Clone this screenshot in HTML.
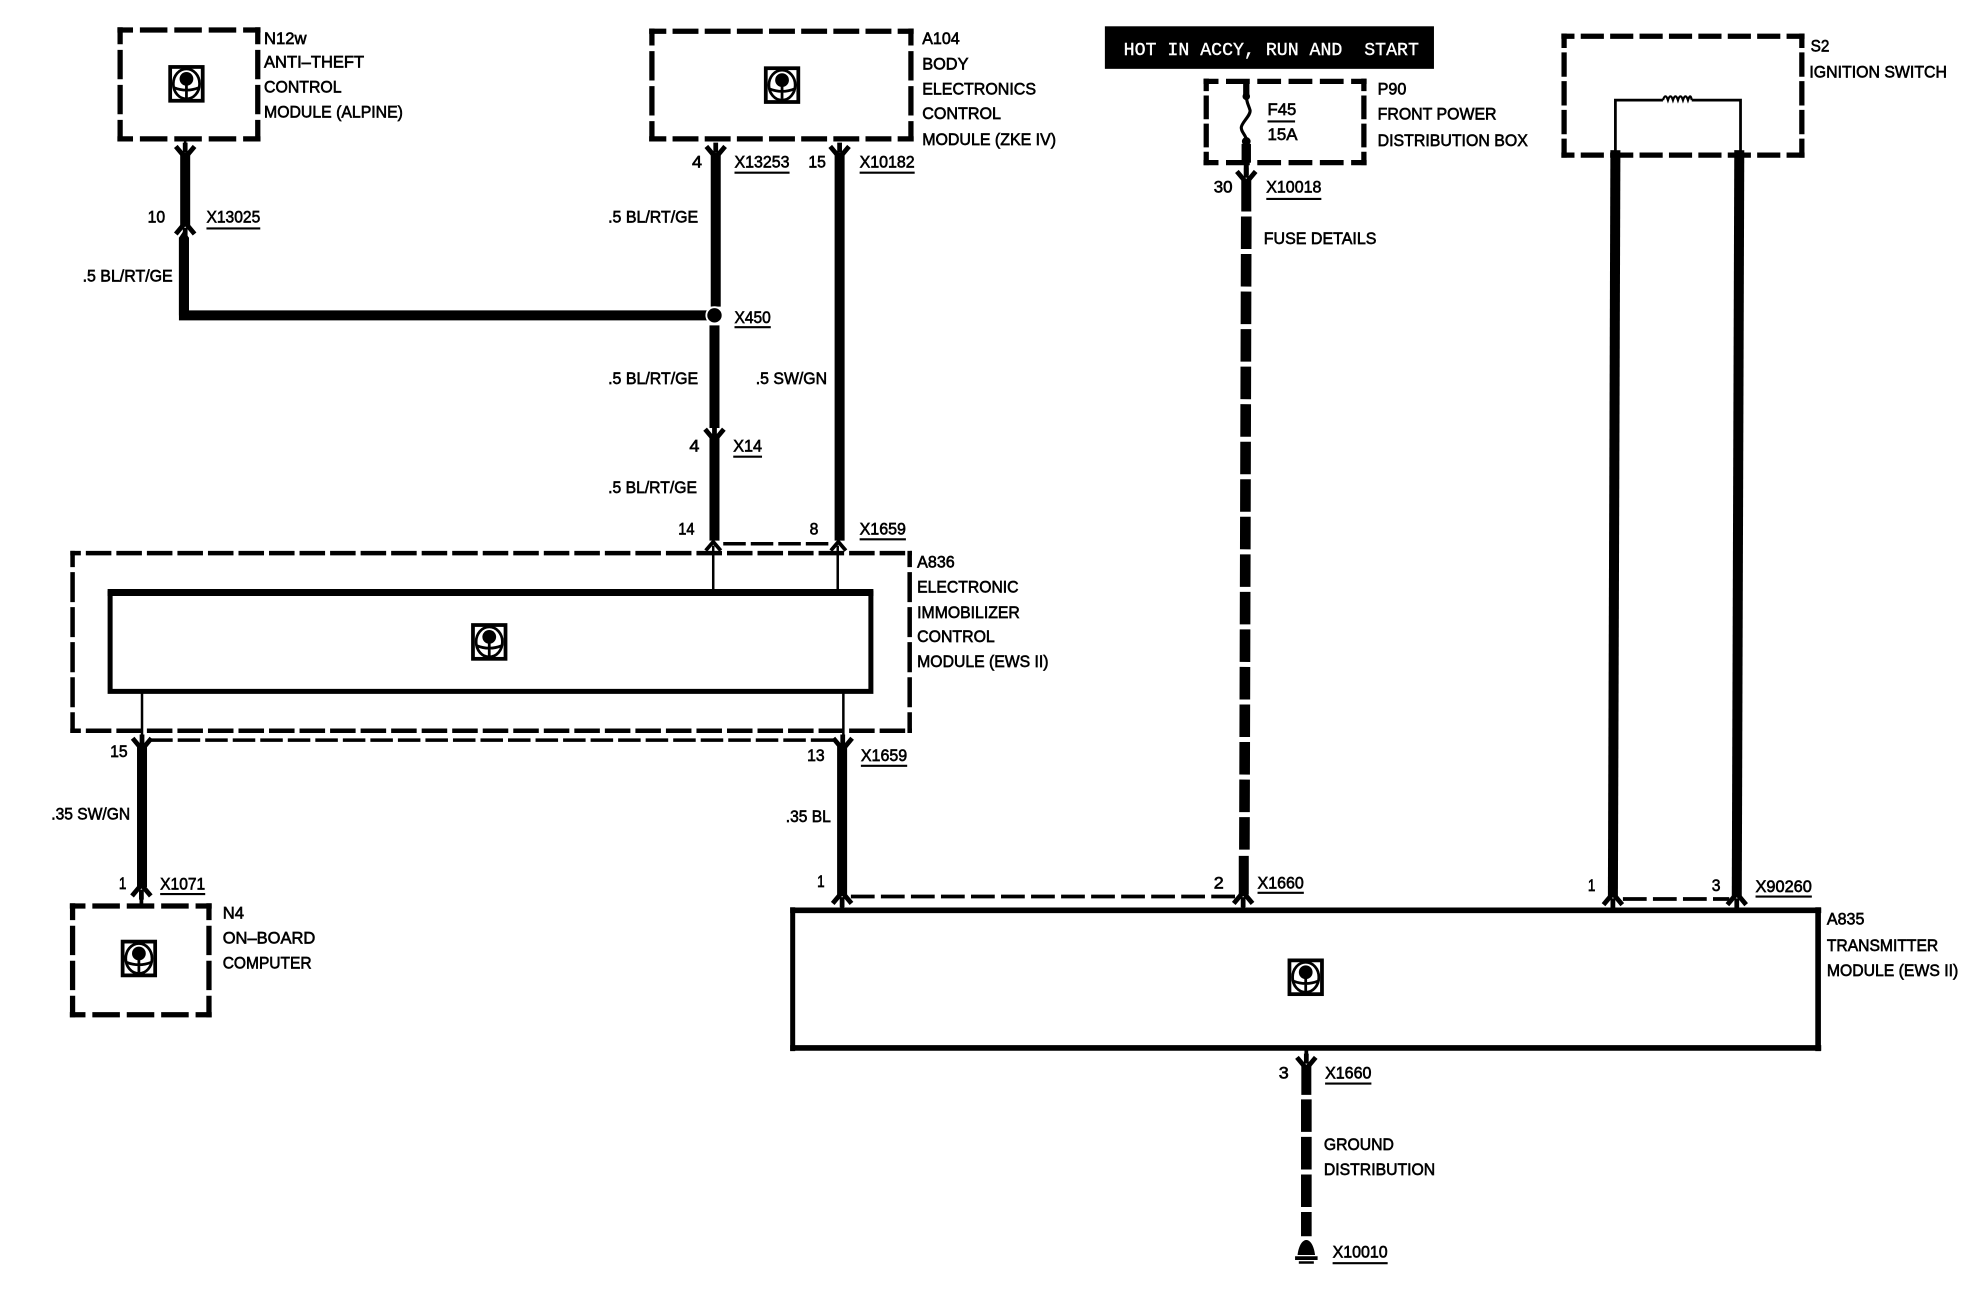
<!DOCTYPE html>
<html lang="en">
<head>
<meta charset="utf-8">
<title>Wiring diagram</title>
<style>
html,body{margin:0;padding:0;background:#fff;width:1962px;height:1312px;overflow:hidden}
svg{display:block}
text{font-family:"Liberation Sans",sans-serif;font-size:13.5px;fill:#000;stroke:#000;stroke-width:.5px}
.w{fill:none;stroke:#000;stroke-width:8}
.t{fill:none;stroke:#000;stroke-width:2}
.s{fill:none;stroke:#000;stroke-width:4.2}
.dv{fill:none;stroke:#000;stroke-width:4.2;stroke-dasharray:23.500 4.500;stroke-dashoffset:10}
.d3{fill:none;stroke:#000;stroke-width:2.8;stroke-dasharray:18 4}
.d4{fill:none;stroke:#000;stroke-width:3;stroke-dasharray:19 5}
.f{fill:none;stroke:#000;stroke-width:8.5;stroke-dasharray:26 4}
.u{stroke:#000;stroke-width:1.7}
</style>
</head>
<body>
<svg xmlns="http://www.w3.org/2000/svg" width="1962" height="1312" viewBox="0 0 1568 1048.5">
<defs>
<g id="ic">
<rect x="-13" y="-13.500" width="26" height="27" fill="#fff" stroke="#000" stroke-width="3"/>
<ellipse cx="0" cy="0" rx="10.500" ry="12" fill="none" stroke="#000" stroke-width="2.2"/>
<circle cx="0" cy="-4" r="5.500" fill="#000"/>
<path d="M0 0V11M-10 3Q0 7 10 3" fill="none" stroke="#000" stroke-width="2.2"/>
</g>
<path id="fd" d="M-7.500 -7 L0 2 L7.500 -7 M0 -10V-2" fill="none" stroke="#000" stroke-width="3.800"/>
<path id="fu" d="M-7.500 7 L0 -2 L7.500 7 M0 10V2" fill="none" stroke="#000" stroke-width="3.800"/>
<path id="fs" d="M-6 5 L0 -2 L6 5" fill="none" stroke="#000" stroke-width="3"/>
</defs>

<!-- dashed module boxes: each side restarts its dash pattern at a corner -->
<path class="s" stroke-dasharray="22 5.500" stroke-dashoffset="9.500" d="M93.800 24H208.200M93.800 111H208.200"/>
<path class="dv" d="M96 21.800V113M206 21.800V113"/>

<path class="s" stroke-dasharray="20.700 5" stroke-dashoffset="7" d="M518.800 25H730.200M518.800 111H730.200"/>
<path class="dv" d="M521 22.800V113M728 22.800V113"/>

<path class="s" stroke-dasharray="19 6" stroke-dashoffset="7" d="M961.800 65H1092.200M961.800 130H1092.200"/>
<path class="s" stroke-dasharray="19 3.500" stroke-dashoffset="9" d="M964 62.800V132M1090 62.800V132"/>

<path class="s" stroke-dasharray="18.500 5" stroke-dashoffset="8" d="M1247.800 29H1442.200M1247.800 124H1442.200"/>
<path class="s" stroke-dasharray="19.500 3.500" stroke-dashoffset="8" d="M1250 26.800V126M1440 26.800V126"/>

<path fill="none" stroke="#000" stroke-width="3.600" stroke-dasharray="20.400 4" stroke-dashoffset="12" d="M56.200 442H728.800M56.200 584H728.800"/>
<path fill="none" stroke="#000" stroke-width="3.600" stroke-dasharray="24 4" stroke-dashoffset="11" d="M58 440.200V585.800M727 440.200V585.800"/>

<path class="s" stroke-dasharray="22 5.500" stroke-dashoffset="9.500" d="M55.800 724H169.200M55.800 811H169.200"/>
<path class="dv" d="M58 721.800V813M167 721.800V813"/>

<!-- solid modules -->
<path fill="none" stroke="#000" stroke-width="4" d="M88 472V554M696 472V554M86 552.500H698"/>
<path fill="none" stroke="#000" stroke-width="5.500" d="M86 473.500H698"/>
<path fill="none" stroke="#000" stroke-width="4" d="M633.500 725V840"/>
<path fill="none" stroke="#000" stroke-width="4.500" d="M631.500 727.500H1455.500M1453 725V840M631.500 837.500H1455.500"/>

<!-- N12w wire -->
<path class="t" d="M148 111V120" stroke-width="3"/>
<use href="#fd" x="148" y="124"/>
<path class="w" d="M148 122V180"/>
<use href="#fu" x="148" y="180"/>
<path d="M143 252V190L147 184L151 190V252Z" fill="#000"/>
<path class="w" d="M147 190V252H570"/>

<!-- A104 pin 4 -->
<use href="#fd" x="572" y="124"/>
<path class="w" d="M572 122V245"/>
<circle cx="571" cy="252" r="6.500" fill="#000" stroke="#fff" stroke-width="1.500"/>
<path class="w" d="M571 260V342"/>
<use href="#fd" x="571" y="350"/>
<path class="w" d="M571 348V432"/>
<use href="#fs" x="570" y="435"/>

<!-- A104 pin 15 -->
<use href="#fd" x="671" y="124"/>
<path class="w" d="M671 122V432"/>
<use href="#fs" x="670" y="435"/>

<path class="d3" d="M578 434.500H664"/>
<path class="t" d="M570 436V473M669.500 436V473"/>

<!-- A836 lower wires -->
<path class="t" d="M113.500 552V590M674 552V590"/>
<path class="d3" d="M120 591.500H668"/>
<use href="#fd" x="113.500" y="597"/>
<use href="#fd" x="673.500" y="597"/>
<path class="w" d="M113.500 595V709"/>
<path class="w" d="M673 595V715"/>
<use href="#fu" x="113" y="709"/>
<path d="M113 714V724" stroke="#000" stroke-width="3"/>
<use href="#fu" x="673" y="715"/>
<path d="M673 720V727" stroke="#000" stroke-width="3"/>

<path class="d4" d="M680 716.500H988"/>

<!-- Fuse wire -->
<path d="M996 65V76" stroke="#000" stroke-width="5"/>
<path d="M996 76C996 82 998 84 999 88C1000 92 992 98 992 102C992 106 996 108 996 112" fill="none" stroke="#000" stroke-width="2.500"/>
<circle cx="996" cy="77" r="3" fill="#000"/>
<circle cx="996" cy="113" r="3.500" fill="#000"/>
<path d="M996 115V130" stroke="#000" stroke-width="7.500"/>
<path d="M996 130V140" stroke="#000" stroke-width="4"/>
<use href="#fd" x="996" y="144"/>
<path class="w" d="M996 144V169" stroke-width="8.500"/>
<path class="f" d="M996 173L994.500 681"/>
<path class="w" d="M994 684V715"/>
<use href="#fu" x="993.500" y="715"/>
<path d="M993.500 718V726" stroke="#000" stroke-width="3"/>

<!-- S2 wires -->
<path class="w" d="M1291 120L1289 716"/>
<path class="w" d="M1390 120L1388 716"/>
<path d="M1291 122V80H1329M1352 80H1391V122" fill="none" stroke="#000" stroke-width="2.200"/>
<path d="M1329 80q2 -6 4 0q2 -6 4 0q2 -6 4 0q2 -6 4 0q2 -6 4 0q2 -6 3 0" fill="none" stroke="#000" stroke-width="1.800"/>
<use href="#fu" x="1289" y="716"/>
<use href="#fu" x="1388" y="716"/>
<path class="d4" d="M1297 718.500H1382"/>
<path d="M1289 719V726M1388 719V726" stroke="#000" stroke-width="3"/>

<!-- ground wire -->
<path d="M1044 838V848" stroke="#000" stroke-width="3"/>
<use href="#fd" x="1044" y="852"/>
<path class="w" d="M1044 851V875" stroke-width="8.500"/>
<path class="f" stroke-dasharray="26 3.600" d="M1044 878.600V988"/>
<path d="M1037 1003C1038 995 1041 991 1044 991C1047 991 1050 995 1051 1003ZM1035 1004H1053V1007H1035ZM1038 1008H1050V1010H1038Z" fill="#000"/>

<!-- ECU icons -->
<use href="#ic" x="149" y="67"/>
<use href="#ic" x="625" y="68"/>
<use href="#ic" x="391" y="513"/>
<use href="#ic" x="111" y="766"/>
<use href="#ic" x="1043.500" y="781"/>

<!-- banner -->
<rect x="883" y="21" width="263" height="34" fill="#000"/>
<text x="898" y="44" textLength="236" lengthAdjust="spacingAndGlyphs" xml:space="preserve" style="font-family:'Liberation Mono',monospace;fill:#fff;stroke:#fff;stroke-width:.3px;font-size:14.500px">HOT IN ACCY, RUN AND  START</text>

<!-- underlines -->
<path class="u" d="M165 182.500H208M587 138H631M687 138H731M587 261.500H616M586 365H609M687 431H724M688 612H725M128 714.500H164M1005 713.500H1042M1403 716.500H1448M1059 866H1096M1065 1009.500H1109M1012 159H1056M1013 97H1035"/>

<!-- N12w -->
<text x="211" y="35" textLength="34" lengthAdjust="spacingAndGlyphs">N12w</text>
<text x="211" y="54" textLength="80" lengthAdjust="spacingAndGlyphs">ANTI–THEFT</text>
<text x="211" y="74" textLength="62" lengthAdjust="spacingAndGlyphs">CONTROL</text>
<text x="211" y="94" textLength="111" lengthAdjust="spacingAndGlyphs">MODULE (ALPINE)</text>
<text x="118" y="178" textLength="14" lengthAdjust="spacingAndGlyphs">10</text>
<text x="165" y="178" textLength="43" lengthAdjust="spacingAndGlyphs">X13025</text>
<text x="66" y="225" textLength="72" lengthAdjust="spacingAndGlyphs">.5 BL/RT/GE</text>

<!-- A104 -->
<text x="737" y="35" textLength="30" lengthAdjust="spacingAndGlyphs">A104</text>
<text x="737" y="55.500" textLength="37" lengthAdjust="spacingAndGlyphs">BODY</text>
<text x="737" y="75.500" textLength="91" lengthAdjust="spacingAndGlyphs">ELECTRONICS</text>
<text x="737" y="95" textLength="63" lengthAdjust="spacingAndGlyphs">CONTROL</text>
<text x="737" y="116" textLength="107" lengthAdjust="spacingAndGlyphs">MODULE (ZKE IV)</text>
<text x="553" y="134" textLength="8" lengthAdjust="spacingAndGlyphs">4</text>
<text x="587" y="134" textLength="44" lengthAdjust="spacingAndGlyphs">X13253</text>
<text x="646" y="134" textLength="14" lengthAdjust="spacingAndGlyphs">15</text>
<text x="687" y="134" textLength="44" lengthAdjust="spacingAndGlyphs">X10182</text>
<text x="486" y="178" textLength="72" lengthAdjust="spacingAndGlyphs">.5 BL/RT/GE</text>
<text x="587" y="258" textLength="29" lengthAdjust="spacingAndGlyphs">X450</text>
<text x="486" y="307" textLength="72" lengthAdjust="spacingAndGlyphs">.5 BL/RT/GE</text>
<text x="604" y="307" textLength="57" lengthAdjust="spacingAndGlyphs">.5 SW/GN</text>
<text x="551" y="361" textLength="8" lengthAdjust="spacingAndGlyphs">4</text>
<text x="586" y="361" textLength="23" lengthAdjust="spacingAndGlyphs">X14</text>
<text x="486" y="394" textLength="71" lengthAdjust="spacingAndGlyphs">.5 BL/RT/GE</text>
<text x="542" y="427" textLength="13" lengthAdjust="spacingAndGlyphs">14</text>
<text x="647" y="427" textLength="7" lengthAdjust="spacingAndGlyphs">8</text>
<text x="687" y="427" textLength="37" lengthAdjust="spacingAndGlyphs">X1659</text>

<!-- A836 -->
<text x="733" y="453.500" textLength="30" lengthAdjust="spacingAndGlyphs">A836</text>
<text x="733" y="473.500" textLength="81" lengthAdjust="spacingAndGlyphs">ELECTRONIC</text>
<text x="733" y="494" textLength="82" lengthAdjust="spacingAndGlyphs">IMMOBILIZER</text>
<text x="733" y="513" textLength="62" lengthAdjust="spacingAndGlyphs">CONTROL</text>
<text x="733" y="533" textLength="105" lengthAdjust="spacingAndGlyphs">MODULE (EWS II)</text>
<text x="88" y="605" textLength="14" lengthAdjust="spacingAndGlyphs">15</text>
<text x="645" y="608" textLength="14" lengthAdjust="spacingAndGlyphs">13</text>
<text x="688" y="608" textLength="37" lengthAdjust="spacingAndGlyphs">X1659</text>
<text x="41" y="655" textLength="63" lengthAdjust="spacingAndGlyphs">.35 SW/GN</text>
<text x="628" y="657" textLength="36" lengthAdjust="spacingAndGlyphs">.35 BL</text>

<!-- N4 -->
<text x="95" y="710.500" textLength="6" lengthAdjust="spacingAndGlyphs">1</text>
<text x="128" y="711" textLength="36" lengthAdjust="spacingAndGlyphs">X1071</text>
<text x="178" y="734" textLength="17" lengthAdjust="spacingAndGlyphs">N4</text>
<text x="178" y="754" textLength="74" lengthAdjust="spacingAndGlyphs">ON–BOARD</text>
<text x="178" y="774" textLength="71" lengthAdjust="spacingAndGlyphs">COMPUTER</text>

<!-- A835 -->
<text x="653" y="709" textLength="6" lengthAdjust="spacingAndGlyphs">1</text>
<text x="970" y="710" textLength="8" lengthAdjust="spacingAndGlyphs">2</text>
<text x="1005" y="710" textLength="37" lengthAdjust="spacingAndGlyphs">X1660</text>
<text x="1269" y="712" textLength="6" lengthAdjust="spacingAndGlyphs">1</text>
<text x="1368" y="712" textLength="7" lengthAdjust="spacingAndGlyphs">3</text>
<text x="1403" y="713" textLength="45" lengthAdjust="spacingAndGlyphs">X90260</text>
<text x="1460" y="739" textLength="30" lengthAdjust="spacingAndGlyphs">A835</text>
<text x="1460" y="760" textLength="89" lengthAdjust="spacingAndGlyphs">TRANSMITTER</text>
<text x="1460" y="780" textLength="105" lengthAdjust="spacingAndGlyphs">MODULE (EWS II)</text>
<text x="1022" y="862" textLength="8" lengthAdjust="spacingAndGlyphs">3</text>
<text x="1059" y="862" textLength="37" lengthAdjust="spacingAndGlyphs">X1660</text>
<text x="1058" y="919" textLength="56" lengthAdjust="spacingAndGlyphs">GROUND</text>
<text x="1058" y="939" textLength="89" lengthAdjust="spacingAndGlyphs">DISTRIBUTION</text>
<text x="1065" y="1005" textLength="44" lengthAdjust="spacingAndGlyphs">X10010</text>

<!-- P90 -->
<text x="1013" y="92" textLength="23" lengthAdjust="spacingAndGlyphs">F45</text>
<text x="1013" y="112" textLength="24" lengthAdjust="spacingAndGlyphs">15A</text>
<text x="1101" y="75.500" textLength="23" lengthAdjust="spacingAndGlyphs">P90</text>
<text x="1101" y="95.500" textLength="95" lengthAdjust="spacingAndGlyphs">FRONT POWER</text>
<text x="1101" y="116.500" textLength="120" lengthAdjust="spacingAndGlyphs">DISTRIBUTION BOX</text>
<text x="970" y="154" textLength="15" lengthAdjust="spacingAndGlyphs">30</text>
<text x="1012" y="154" textLength="44" lengthAdjust="spacingAndGlyphs">X10018</text>
<text x="1010" y="195" textLength="90" lengthAdjust="spacingAndGlyphs">FUSE DETAILS</text>

<!-- S2 -->
<text x="1447" y="41" textLength="15" lengthAdjust="spacingAndGlyphs">S2</text>
<text x="1446" y="62" textLength="110" lengthAdjust="spacingAndGlyphs">IGNITION SWITCH</text>
</svg>
</body>
</html>
